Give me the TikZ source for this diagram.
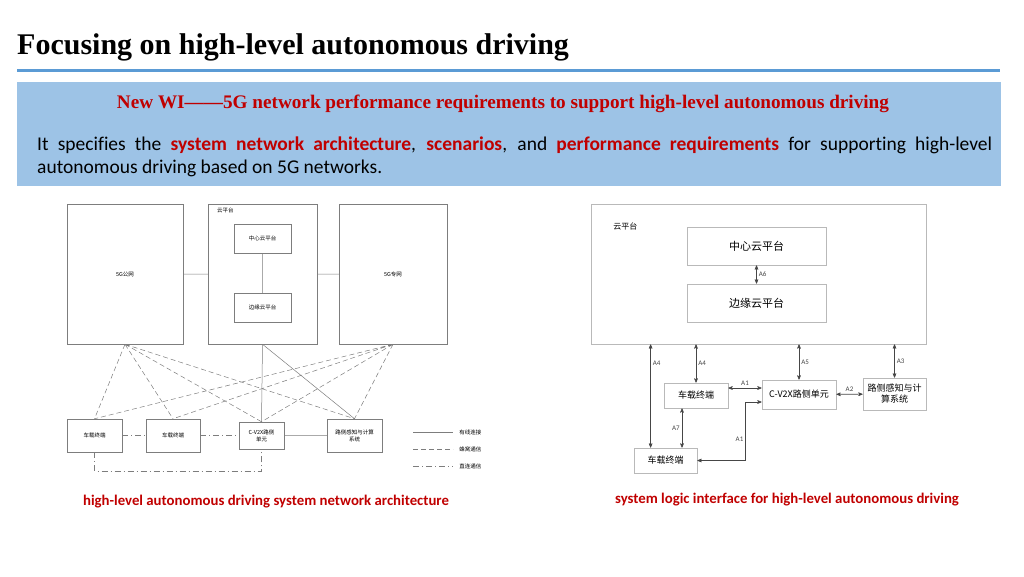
\documentclass[tikz,border=0pt]{standalone}
\usepackage{fontspec}
\setmainfont{Liberation Serif}
\newfontfamily\calfont{Carlito}[Ligatures=NoCommon]
\newfontfamily\cjk{Noto Sans CJK SC}
\usetikzlibrary{arrows,calc}
\definecolor{slideblue}{RGB}{91,155,213}
\definecolor{boxblue}{RGB}{157,195,230}
\definecolor{darkred}{RGB}{192,0,0}
\definecolor{linegray}{RGB}{125,125,125}
\definecolor{framegray}{RGB}{185,185,185}
\definecolor{arrowgray}{RGB}{70,70,70}
\newcommand{\hl}[1]{\textcolor{darkred}{\textbf{#1}}}
\tikzset{
   netbox/.style={draw=linegray, line width=0.5pt, inner sep=1pt, align=center,
                  font=\cjk\fontsize{5.5}{7}\selectfont},
   wired/.style={draw=linegray, line width=0.5pt},
   cellular/.style={draw=linegray, line width=0.5pt, dash pattern=on 5pt off 3pt},
   direct/.style={draw=linegray, line width=0.5pt, dash pattern=on 6pt off 3pt on 1pt off 3pt},
   logicbox/.style={draw=framegray, line width=0.8pt, inner sep=1pt, align=center,
                    font=\cjk\fontsize{9}{11}\selectfont},
   iface/.style={<->, >=stealth', draw=arrowgray, line width=0.6pt},
   ifacelabel/.style={font=\calfont\fontsize{7}{8}\selectfont, text=arrowgray, inner sep=2pt}
}
\begin{document}
\begin{tikzpicture}[x=1pt,y=-1pt]
\useasboundingbox (0,0) rectangle (1024,576);
%
% header
\node[anchor=base west, inner sep=0, font=\bfseries\fontsize{30}{33}\selectfont] (title) at (17,54)
  {Focusing on high-level autonomous driving};
\draw[slideblue, line width=3pt] (17,70.5) -- (1000,70.5);
\fill[boxblue] (17,82) rectangle (1001,186);
\node[font=\bfseries\fontsize{19.2}{21}\selectfont, text=darkred, inner sep=0] (wi) at (503,104)
  {New WI——5G network performance requirements to support high-level autonomous driving};
\node[anchor=north west, inner sep=0, text width=955pt, align=justify,
      font=\calfont\fontsize{19.5}{23}\selectfont] (intro) at (37,137)
  {It specifies the \hl{system network architecture}, \hl{scenarios}, and \hl{performance requirements}
   for supporting high-level \mbox{autonomous} driving based on 5G networks.};
%
% network architecture
\begin{scope}
\node[netbox,minimum width=116pt,minimum height=140pt] (pub)     at (125,274)   {5G公网};
\node[netbox,minimum width=109pt,minimum height=140pt] (cloudL)  at (262.5,274) {};
\node[netbox,minimum width=57pt,minimum height=29pt]   (centerL) at (262.5,238.5) {中心云平台};
\node[netbox,minimum width=57pt,minimum height=29pt]   (edgeL)   at (262.5,307.5) {边缘云平台};
\node[netbox,minimum width=108pt,minimum height=140pt] (priv)    at (393,274)   {5G专网};
\node[netbox,draw=none,anchor=north west] (cloudLlabel) at ([xshift=8pt,yshift=-3pt]cloudL.north west) {云平台};
\node[netbox,minimum width=55pt,minimum height=33pt]   (carA)    at (94.5,435.5) {车载终端};
\node[netbox,minimum width=54pt,minimum height=33pt]   (carB)    at (173,435.5)  {车载终端};
\node[netbox,minimum width=45pt,minimum height=27pt]   (rsuL)    at (261.5,435.5) {C-V2X路侧\\单元};
\node[netbox,minimum width=55pt,minimum height=33pt]   (senL)    at (354.5,435.5) {路侧感知与计算\\系统};
%
\path[wired]
  (pub) -- (cloudL)
  (cloudL) -- (priv)
  (centerL) -- (edgeL)
  (cloudL.south) -- (rsuL.north)
  (cloudL.south) -- (senL.north)
  (rsuL) -- (senL)
  ;
\path[cellular]
  (pub.south) -- (carA.north)
  (pub.south) -- (carB.north)
  (pub.south) -- (rsuL.north)
  (pub.south) -- (senL.north)
  (priv.south) -- (carA.north)
  (priv.south) -- (carB.north)
  (priv.south) -- (rsuL.north)
  (priv.south) -- (senL.north)
  ;
\path[direct]
  (carA) -- (carB)
  (carB) -- (rsuL)
  (carA.south) -- ++(0,19) -| (rsuL.south)
  ;
% legend
\node[netbox,draw=none,anchor=west] (lgwired)  at (458,432) {有线连接};
\node[netbox,draw=none,anchor=west] (lgcell)   at (458,449) {蜂窝通信};
\node[netbox,draw=none,anchor=west] (lgdirect) at (458,466) {直连通信};
\draw[wired]    ([xshift=-45pt]lgwired.west)  -- ([xshift=-5pt]lgwired.west);
\draw[cellular] ([xshift=-45pt]lgcell.west)   -- ([xshift=-5pt]lgcell.west);
\draw[direct]   ([xshift=-45pt]lgdirect.west) -- ([xshift=-5pt]lgdirect.west);
\end{scope}
%
% logic interfaces
\begin{scope}
\node[logicbox,minimum width=335pt,minimum height=140pt] (cloudR)  at (758.5,274) {};
\node[logicbox,draw=none,anchor=west,font=\cjk\fontsize{8}{10}\selectfont] (cloudRlabel) at (612,226) {云平台};
\node[logicbox,minimum width=139pt,minimum height=38pt,font=\cjk\fontsize{11}{13}\selectfont] (centerR) at (756.5,246) {中心云平台};
\node[logicbox,minimum width=139pt,minimum height=38pt,font=\cjk\fontsize{11}{13}\selectfont] (edgeR)   at (756.5,303) {边缘云平台};
\node[logicbox,minimum width=64pt,minimum height=25pt] (carR1) at (696,395.5)   {车载终端};
\node[logicbox,minimum width=74pt,minimum height=29pt] (rsuR)  at (799,394.5)   {C-V2X路侧单元};
\node[logicbox,minimum width=63pt,minimum height=32pt] (senR)  at (894.5,394)   {路侧感知与计\\算系统};
\node[logicbox,minimum width=63pt,minimum height=25pt] (carR2) at (665.5,460.5) {车载终端};
%
\draw[iface] (centerR) -- (edgeR) node[midway,right,ifacelabel] {A6};
\draw[iface] ([xshift=17pt]carR2.north west |- cloudR.south) -- ([xshift=17pt]carR2.north west)
  node[pos=0.18,right,ifacelabel] {A4};
\draw[iface] (carR1.north |- cloudR.south) -- (carR1.north) node[midway,right,ifacelabel] {A4};
\draw[iface] (rsuR.north |- cloudR.south) -- (rsuR.north) node[midway,right,ifacelabel] {A5};
\draw[iface] (senR.north |- cloudR.south) -- (senR.north) node[midway,right,ifacelabel] {A3};
\draw[iface] ([yshift=7.5pt]carR1.east) -- ([yshift=7.5pt]carR1.east -| rsuR.west)
  node[midway,above,ifacelabel] {A1};
\draw[iface] (rsuR) -- (senR) node[midway,above,ifacelabel] {A2};
\draw[iface] ([xshift=-14pt]carR1.south) -- ([xshift=-14pt]carR1.south |- carR2.north)
  node[midway,left,ifacelabel] {A7};
\draw[iface] (carR2.east) -| node[pos=0.68,left,ifacelabel] {A1}
  ([xshift=-16pt,yshift=-7.5pt]rsuR.west) -- ([yshift=-7.5pt]rsuR.west);
\end{scope}
%
% captions
\node[font=\calfont\bfseries\fontsize{14.8}{16}\selectfont, text=darkred, inner sep=0] (capL) at (266,502)
  {high-level autonomous driving system network architecture};
\node[font=\calfont\bfseries\fontsize{14.8}{16}\selectfont, text=darkred, inner sep=0] (capR) at (787,500)
  {system logic interface for high-level autonomous driving};
\end{tikzpicture}
\end{document}
